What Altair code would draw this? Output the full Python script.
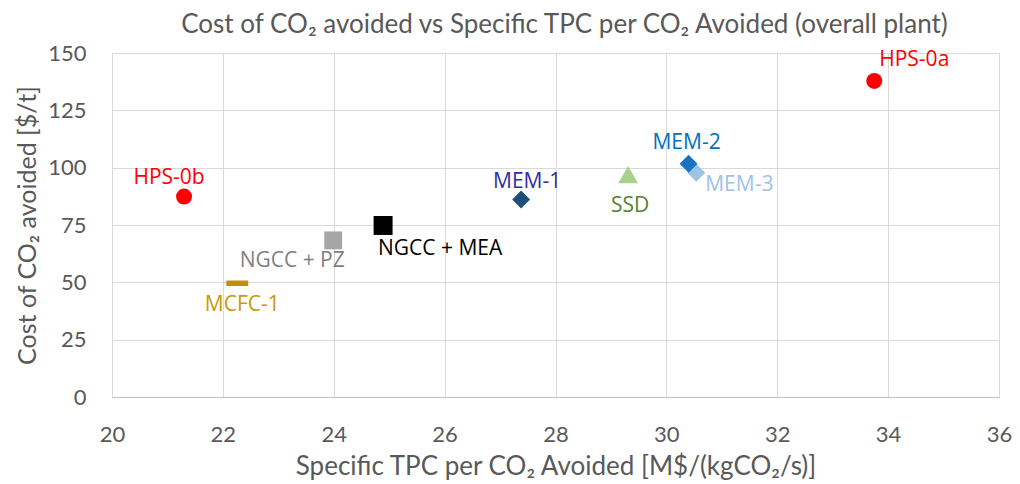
import altair as alt
import pandas as pd

# ---- data ----
names = ["HPS-0a", "HPS-0b", "MEM-1", "SSD", "MEM-3", "MEM-2", "NGCC + MEA", "NGCC + PZ", "MCFC-1"]
tpc = [33.75, 21.30, 27.38, 29.31, 30.54, 30.40, 24.89, 23.99, 22.26]
cost = [137.8, 87.4, 86.1, 97.0, 97.8, 101.7, 74.8, 68.3, 49.6]

x_ticks = [20, 22, 24, 26, 28, 30, 32, 34, 36]
y_ticks = [0, 25, 50, 75, 100, 125, 150]

# ---- styles ----
DASH = "M-1,-0.25H1V0.25H-1Z"
style = {
    "HPS-0a":     dict(shape="circle", size=255, fill="#ff0000", lab="#ff0000", dx=40, dy=-21),
    "HPS-0b":     dict(shape="circle", size=255, fill="#ff0000", lab="#ff0000", dx=-15, dy=-19),
    "MEM-1":      dict(shape="diamond", size=320, fill="#1f4e79", lab="#2f2f9f", dx=6, dy=-18),
    "SSD":        dict(shape="triangle-up", size=400, fill="#a9d18e", lab="#548235", dx=2, dy=31),
    "MEM-3":      dict(shape="diamond", size=320, fill="#9dc3e6", lab="#9dc3e6", dx=43, dy=12),
    "MEM-2":      dict(shape="diamond", size=320, fill="#1c72c0", lab="#0070c0", dx=-2, dy=-21),
    "NGCC + MEA": dict(shape="square", size=360, fill="#000000", lab="#000000", dx=57, dy=24),
    "NGCC + PZ":  dict(shape="square", size=320, fill="#a6a6a6", lab="#808080", dx=-41, dy=21),
    "MCFC-1":     dict(shape=DASH, size=480, fill="#bf9000", lab="#c99a06", dx=5, dy=22),
}

df = pd.DataFrame({"name": names, "tpc": tpc, "cost": cost})
df["shape"] = [style[n]["shape"] for n in names]
df["size"] = [style[n]["size"] for n in names]
df["fill"] = [style[n]["fill"] for n in names]

AX_FONT = "Lato"
LAB_FONT = "Open Sans"
GREY = "#595959"

x_enc = alt.X(
    "tpc:Q",
    scale=alt.Scale(domain=[20, 36], nice=False, zero=False),
    axis=alt.Axis(
        values=x_ticks, format="d", title="Specific TPC per CO₂ Avoided [M$/(kgCO₂/s)]",
        titleY=69, titleBaseline="middle", labelFlush=False,
        labelPadding=27, tickSize=0, labelBaseline="top",
    ),
)
y_enc = alt.Y(
    "cost:Q",
    scale=alt.Scale(domain=[0, 150], nice=False),
    axis=alt.Axis(
        values=y_ticks, format="d", title="Cost of CO₂ avoided [$/t]",
        titleX=-85, titleBaseline="middle", titleFontSize=25, labelFlush=False,
        labelPadding=26, tickSize=0,
    ),
)

base = alt.Chart(df)

points = base.mark_point(filled=True, opacity=1, strokeWidth=0).encode(
    x=x_enc,
    y=y_enc,
    shape=alt.Shape("shape:N", scale=None),
    size=alt.Size("size:Q", scale=None),
    color=alt.Color("fill:N", scale=None),
)

labels = []
for n in names:
    s = style[n]
    labels.append(
        base.transform_filter(alt.datum.name == n)
        .mark_text(font=LAB_FONT, fontSize=21, dx=s["dx"], dy=s["dy"],
                   align="center", baseline="middle", color=s["lab"])
        .encode(x="tpc:Q", y="cost:Q", text="name:N")
    )

chart = (
    alt.layer(points, *labels)
    .properties(
        width=887,
        height=344,
        padding={"left": 104, "top": 45, "right": 13, "bottom": 83},
        autosize=alt.AutoSizeParams(type="none"),
        title=alt.TitleParams(
            "Cost of CO₂ avoided vs Specific TPC per CO₂ Avoided (overall plant)",
            font=AX_FONT, fontSize=26, fontWeight="normal", color=GREY,
            anchor="middle", offset=4, dx=9,
        ),
    )
    .configure_view(stroke=None)
    .configure_axis(
        grid=True, gridColor="#d9d9d9", gridWidth=1,
        domainColor="#bfbfbf", domainWidth=1.2,
        labelFont=AX_FONT, labelFontSize=22, labelColor=GREY,
        titleFont=AX_FONT, titleFontSize=26, titleFontWeight="normal", titleColor=GREY,
    )
    .configure_axisX(domain=True)
    .configure_axisY(domain=False)
)

chart.save("out.html", embed_options={"renderer": "svg", "actions": False})
